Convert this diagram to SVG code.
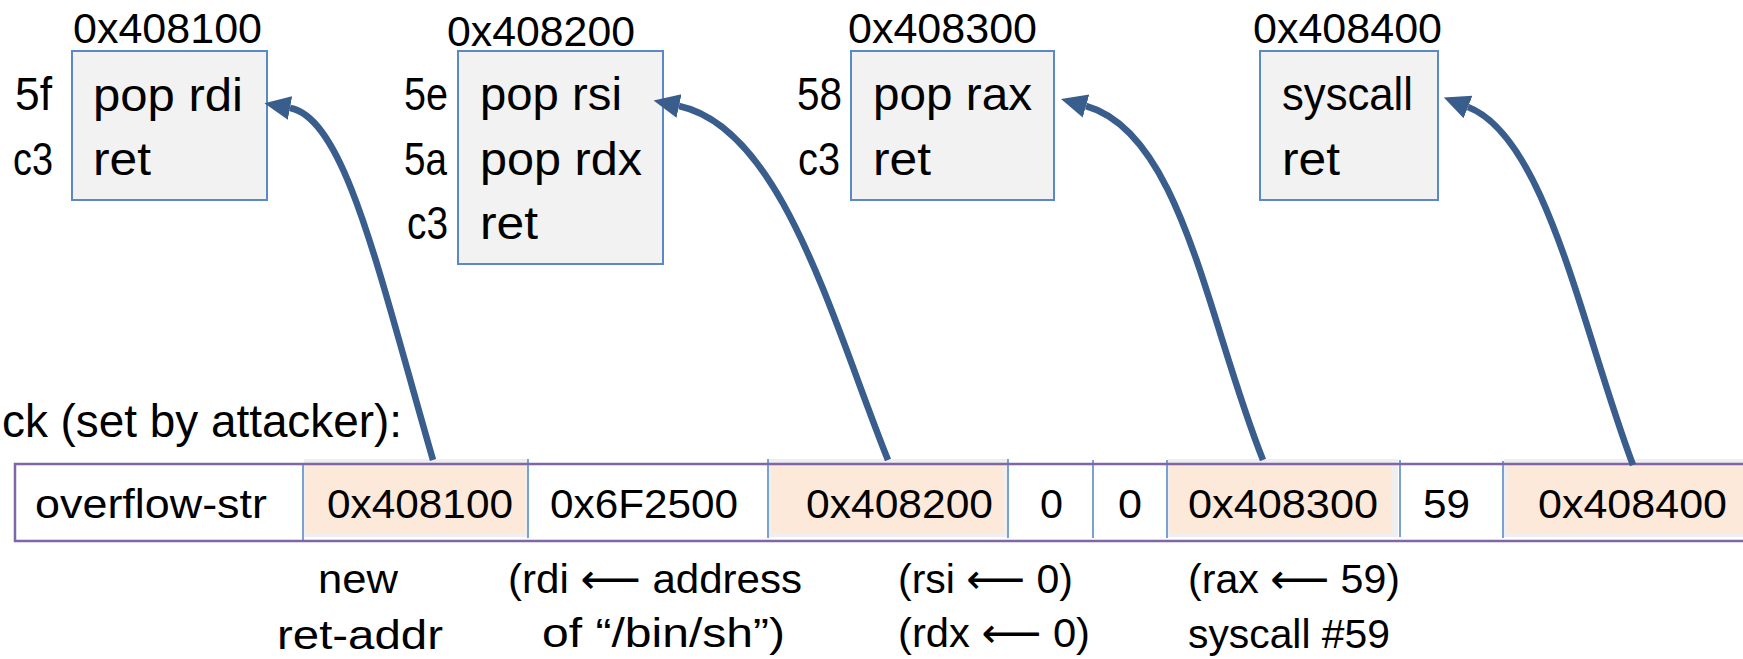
<svg xmlns="http://www.w3.org/2000/svg" width="1743" height="659" viewBox="0 0 1743 659">
  <style>
    text { font-family: "Liberation Sans", Arial, "DejaVu Sans", sans-serif; fill: #000; }
    .big { font-size: 46px; }
    .addr { font-size: 42px; }
    .cell { font-size: 41px; }
    .note { font-size: 41px; }
    .gadget { fill: #f2f2f2; stroke: #5a89c6; stroke-width: 2; }
    .shade { fill: #efefef; }
    .hot { fill: #fde9d9; }
    .div { stroke: #5a89c6; stroke-width: 1.6; }
    .rowline { stroke: #8066a4; stroke-width: 2.5; fill: none; }
    .link { fill: none; stroke: #395d8c; stroke-width: 6.5; marker-end: url(#head); }
  </style>
  <defs>
    <marker id="head" markerUnits="userSpaceOnUse" viewBox="0 -14 28 28" markerWidth="28" markerHeight="28" refX="0" refY="0" orient="auto">
      <path d="M0,-12 L26,0 L0,12 z" fill="#395d8c"/>
    </marker>
  </defs>

  <rect width="1743" height="659" fill="#fff"/>

  <!-- gadget at 0x408100 -->
  <g id="gadget-408100">
    <rect class="gadget" x="72" y="51" width="195" height="149"/>
    <text class="addr" x="73" y="43" textLength="189" lengthAdjust="spacingAndGlyphs">0x408100</text>
    <text class="big" x="52" y="110" text-anchor="end" textLength="37" lengthAdjust="spacingAndGlyphs">5f</text>
    <text class="big" x="53" y="175" text-anchor="end" textLength="40" lengthAdjust="spacingAndGlyphs">c3</text>
    <text class="big" x="93" y="111" textLength="150" lengthAdjust="spacingAndGlyphs">pop rdi</text>
    <text class="big" x="93" y="175" textLength="58" lengthAdjust="spacingAndGlyphs">ret</text>
  </g>

  <!-- gadget at 0x408200 -->
  <g id="gadget-408200">
    <rect class="gadget" x="458" y="51" width="205" height="213"/>
    <text class="addr" x="447" y="46" textLength="188" lengthAdjust="spacingAndGlyphs">0x408200</text>
    <text class="big" x="448" y="110" text-anchor="end" textLength="44" lengthAdjust="spacingAndGlyphs">5e</text>
    <text class="big" x="447" y="175" text-anchor="end" textLength="43" lengthAdjust="spacingAndGlyphs">5a</text>
    <text class="big" x="448" y="239" text-anchor="end" textLength="41" lengthAdjust="spacingAndGlyphs">c3</text>
    <text class="big" x="480" y="110" textLength="142" lengthAdjust="spacingAndGlyphs">pop rsi</text>
    <text class="big" x="480" y="175" textLength="162" lengthAdjust="spacingAndGlyphs">pop rdx</text>
    <text class="big" x="480" y="239" textLength="58" lengthAdjust="spacingAndGlyphs">ret</text>
  </g>

  <!-- gadget at 0x408300 -->
  <g id="gadget-408300">
    <rect class="gadget" x="851" y="51" width="203" height="149"/>
    <text class="addr" x="848" y="43" textLength="189" lengthAdjust="spacingAndGlyphs">0x408300</text>
    <text class="big" x="842" y="110" text-anchor="end" textLength="45" lengthAdjust="spacingAndGlyphs">58</text>
    <text class="big" x="840" y="175" text-anchor="end" textLength="42" lengthAdjust="spacingAndGlyphs">c3</text>
    <text class="big" x="873" y="110" textLength="159" lengthAdjust="spacingAndGlyphs">pop rax</text>
    <text class="big" x="873" y="175" textLength="58" lengthAdjust="spacingAndGlyphs">ret</text>
  </g>

  <!-- gadget at 0x408400 -->
  <g id="gadget-408400">
    <rect class="gadget" x="1260" y="51" width="178" height="149"/>
    <text class="addr" x="1253" y="43" textLength="189" lengthAdjust="spacingAndGlyphs">0x408400</text>
    <text class="big" x="1282" y="110" textLength="131" lengthAdjust="spacingAndGlyphs">syscall</text>
    <text class="big" x="1282" y="175" textLength="58" lengthAdjust="spacingAndGlyphs">ret</text>
  </g>

  <!-- stack contents -->
  <g id="stack">
    <text class="big" x="402" y="437" text-anchor="end" textLength="400" lengthAdjust="spacingAndGlyphs">ck (set by attacker):</text>

    <!-- highlighted return-address slots -->
    <rect class="shade" x="304" y="459" width="223" height="78"/>
    <rect class="hot" x="306" y="463" width="219" height="70"/>
    <rect class="shade" x="769" y="459" width="238" height="78"/>
    <rect class="hot" x="772" y="463" width="231" height="70"/>
    <rect class="shade" x="1168" y="459" width="230" height="78"/>
    <rect class="hot" x="1170" y="463" width="222" height="70"/>
    <rect class="shade" x="1504" y="459" width="260" height="78"/>
    <rect class="hot" x="1508" y="463" width="250" height="70"/>

    <!-- slot separators -->
    <line class="div" x1="303" y1="463" x2="303" y2="541"/>
    <line class="div" x1="528" y1="459" x2="528" y2="538"/>
    <line class="div" x1="768" y1="459" x2="768" y2="538"/>
    <line class="div" x1="1008" y1="459" x2="1008" y2="538"/>
    <line class="div" x1="1093" y1="460" x2="1093" y2="538"/>
    <line class="div" x1="1167" y1="460" x2="1167" y2="538"/>
    <line class="div" x1="1400" y1="460" x2="1400" y2="537"/>
    <line class="div" x1="1503" y1="461" x2="1503" y2="538"/>

    <!-- outer frame (open to the right) -->
    <path class="rowline" d="M1745,464 H15 V541 H1745"/>

    <text class="cell" x="35" y="518" textLength="232" lengthAdjust="spacingAndGlyphs">overflow-str</text>
    <text class="cell" x="327" y="518" textLength="186" lengthAdjust="spacingAndGlyphs">0x408100</text>
    <text class="cell" x="550" y="518" textLength="188" lengthAdjust="spacingAndGlyphs">0x6F2500</text>
    <text class="cell" x="806" y="518" textLength="187" lengthAdjust="spacingAndGlyphs">0x408200</text>
    <text class="cell" x="1040" y="518" textLength="23" lengthAdjust="spacingAndGlyphs">0</text>
    <text class="cell" x="1118" y="518" textLength="24" lengthAdjust="spacingAndGlyphs">0</text>
    <text class="cell" x="1188" y="518" textLength="190" lengthAdjust="spacingAndGlyphs">0x408300</text>
    <text class="cell" x="1423" y="518" textLength="47" lengthAdjust="spacingAndGlyphs">59</text>
    <text class="cell" x="1538" y="518" textLength="189" lengthAdjust="spacingAndGlyphs">0x408400</text>
  </g>

  <!-- notes under the stack slots -->
  <g id="notes">
    <text class="note" x="318" y="593" textLength="80" lengthAdjust="spacingAndGlyphs">new</text>
    <text class="note" x="277" y="649" textLength="166" lengthAdjust="spacingAndGlyphs">ret-addr</text>
    <text class="note" x="508" y="593" textLength="294" lengthAdjust="spacingAndGlyphs">(rdi ⟵ address</text>
    <text class="note" x="542" y="647" textLength="243" lengthAdjust="spacingAndGlyphs">of “/bin/sh”)</text>
    <text class="note" x="898" y="593" textLength="175" lengthAdjust="spacingAndGlyphs">(rsi ⟵ 0)</text>
    <text class="note" x="898" y="647" textLength="192" lengthAdjust="spacingAndGlyphs">(rdx ⟵ 0)</text>
    <text class="note" x="1188" y="593" textLength="212" lengthAdjust="spacingAndGlyphs">(rax ⟵ 59)</text>
    <text class="note" x="1188" y="648" textLength="202" lengthAdjust="spacingAndGlyphs">syscall #59</text>
  </g>

  <!-- return addresses pointing at their gadgets -->
  <g id="connectors">
    <path class="link" d="M433,460 C378,270 345,118 290,108"/>
    <path class="link" d="M888,460 C832,320 782,128 679,106"/>
    <path class="link" d="M1263,460 C1207,320 1182,133 1086,106"/>
    <path class="link" d="M1633,465 C1582,330 1547,138 1468,107"/>
  </g>
</svg>
